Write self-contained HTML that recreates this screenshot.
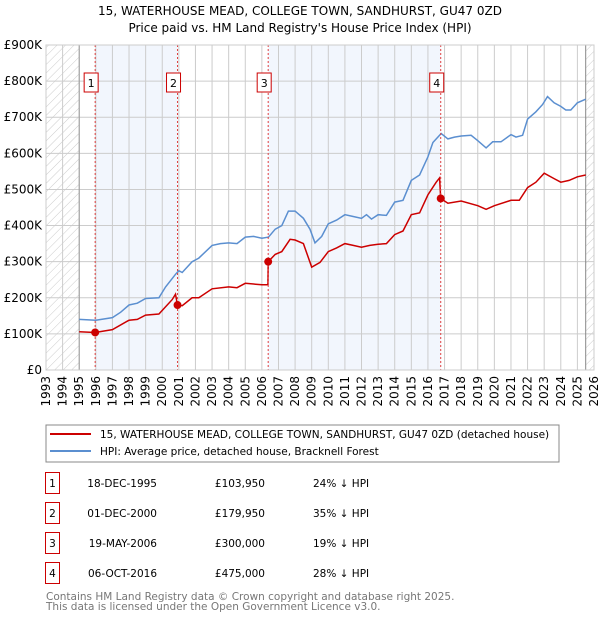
<!DOCTYPE html>
<html><head><meta charset="utf-8"><style>
body{margin:0;background:#fff;font-family:"DejaVu Sans","Liberation Sans",sans-serif;}
svg text{font-family:"DejaVu Sans","Liberation Sans",sans-serif;}
</style></head><body>
<svg id="c" width="600" height="620" xmlns="http://www.w3.org/2000/svg">
<defs><pattern id="hatch" width="6" height="6" patternUnits="userSpaceOnUse" patternTransform="rotate(45)"><line x1="0" y1="0" x2="0" y2="6" stroke="#ccc" stroke-width="1"/></pattern></defs>
<text x="300" y="15" text-anchor="middle" font-size="12">15, WATERHOUSE MEAD, COLLEGE TOWN, SANDHURST, GU47 0ZD</text>
<text x="300" y="32" text-anchor="middle" font-size="12">Price paid vs. HM Land Registry's House Price Index (HPI)</text>
<g id="plot"></g>
<rect x="46" y="425" width="513" height="37" fill="#fff" stroke="#888"/>
<line x1="50" y1="434" x2="91" y2="434" stroke="#cc0000" stroke-width="2"/>
<text x="100" y="438" font-size="10.5">15, WATERHOUSE MEAD, COLLEGE TOWN, SANDHURST, GU47 0ZD (detached house)</text>
<line x1="50" y1="451" x2="91" y2="451" stroke="#5b8fd0" stroke-width="2"/>
<text x="100" y="455" font-size="10.5">HPI: Average price, detached house, Bracknell Forest</text>
<g id="table"></g>
<text x="46" y="600" font-size="10.5" fill="#777">Contains HM Land Registry data © Crown copyright and database right 2025.</text>
<text x="46" y="610" font-size="10.5" fill="#777">This data is licensed under the Open Government Licence v3.0.</text>
</svg>
<script>
const yTicks=[0,100,200,300,400,500,600,700,800,900];
const yTickLabels=["£0","£100K","£200K","£300K","£400K","£500K","£600K","£700K","£800K","£900K"];
const xYears=[1993,1994,1995,1996,1997,1998,1999,2000,2001,2002,2003,2004,2005,2006,2007,2008,2009,2010,2011,2012,2013,2014,2015,2016,2017,2018,2019,2020,2021,2022,2023,2024,2025,2026];
const hpiT=[1995,1996,1997,1997.5,1998,1998.5,1999,1999.8,2000.2,2000.8,2001,2001.2,2001.8,2002.2,2003,2003.5,2004,2004.5,2005,2005.5,2006,2006.4,2006.8,2007.2,2007.6,2008,2008.5,2008.9,2009.2,2009.6,2010,2010.5,2011,2011.5,2012,2012.3,2012.6,2013,2013.5,2014,2014.5,2015,2015.5,2016,2016.3,2016.8,2017.2,2017.6,2018,2018.6,2019,2019.5,2019.9,2020.4,2021,2021.3,2021.7,2022,2022.5,2022.9,2023.2,2023.6,2024,2024.3,2024.6,2025,2025.5];
const hpiV=[140,138,145,160,180,185,198,200,230,265,275,270,300,310,345,350,352,350,368,370,365,368,390,400,440,440,420,390,352,370,405,415,430,425,420,430,418,430,428,465,470,525,540,590,630,655,640,645,648,650,635,615,632,632,652,645,650,695,715,735,757,740,730,720,720,740,750];
const ppT=[1995,1995.96,1996.5,1997,1998,1998.5,1999,1999.8,2000.2,2000.6,2000.8,2000.92,2001.2,2001.8,2002.2,2003,2004,2004.5,2005,2006,2006.36,2006.38,2006.8,2007.2,2007.7,2008,2008.5,2009,2009.5,2010,2010.5,2011,2011.5,2012,2012.5,2013,2013.5,2014,2014.5,2015,2015.5,2016,2016.5,2016.7,2016.77,2017.2,2018,2019,2019.5,2020,2021,2021.5,2022,2022.5,2023,2023.6,2024,2024.5,2025,2025.5];
const ppV=[106,103.95,108,112,138,140,152,155,175,195,210,180,178,200,200,225,230,228,240,236,236,300,320,328,362,360,350,285,298,328,338,350,345,340,345,348,350,375,385,430,435,485,520,532,475,462,468,455,445,455,470,470,505,520,545,530,520,525,535,540];
const saleT=[1995.96,2000.92,2006.38,2016.77];
const saleV=[103.95,179.95,300,475];
const saleLabels=["1","2","3","4"];
const saleDates=["18-DEC-1995","01-DEC-2000","19-MAY-2006","06-OCT-2016"];
const salePrices=["£103,950","£179,950","£300,000","£475,000"];
const saleDiffs=["24% ↓ HPI","35% ↓ HPI","19% ↓ HPI","28% ↓ HPI"];
const X0=46,X1=594,Y0=370,Y1=45;
const xs=t=>X0+(t-1993)/(2026-1993)*(X1-X0);
const ys=v=>Y0-v/900*(Y0-Y1);
const NS="http://www.w3.org/2000/svg";
const plot=document.getElementById('plot');
function mk(tag,attrs,parent){const e=document.createElementNS(NS,tag);for(const k in attrs)e.setAttribute(k,attrs[k]);(parent||plot).appendChild(e);return e;}
let e;
e=mk('rect',{x:X0,y:Y1,width:X1-X0,height:Y0-Y1,fill:'#fff'});


for(const [a,b] of [[saleT[0],saleT[1]],[saleT[2],saleT[3]]]){
 e=mk('rect',{x:xs(a),y:Y1,width:xs(b)-xs(a),height:Y0-Y1,fill:'#f2f6fd'});
 
 
}
e=mk('rect',{x:X0,y:Y1,width:xs(1995)-X0,height:Y0-Y1,fill:'url(#hatch)'});


e=mk('rect',{x:xs(2025.5),y:Y1,width:X1-xs(2025.5),height:Y0-Y1,fill:'url(#hatch)'});


xYears.forEach(y=>{e=mk('line',{x1:xs(y),x2:xs(y),y1:Y1,y2:Y0,stroke:'#ccc','stroke-width':1});
 
 
 e=mk('text',{x:0,y:0,'font-size':12,'text-anchor':'end',transform:`translate(${xs(y)+4},${Y0+6}) rotate(-90)`});
 e.textContent=y;
 
 
});
yTicks.forEach((v,i)=>{e=mk('line',{x1:X0,x2:X1,y1:ys(v),y2:ys(v),stroke:'#ccc','stroke-width':1});
 
 
 e=mk('text',{x:X0-4,y:ys(v)+4,'font-size':12,'text-anchor':'end'});
 e.textContent=yTickLabels[i];
 
 
});
e=mk('line',{x1:xs(1995),x2:xs(1995),y1:Y1,y2:Y0,stroke:'#999'});


e=mk('line',{x1:xs(2025.5),x2:xs(2025.5),y1:Y1,y2:Y0,stroke:'#888'});


e=mk('path',{d:hpiT.map((t,i)=>(i?'L':'M')+xs(t).toFixed(1)+','+ys(hpiV[i]).toFixed(1)).join(''),fill:'none',stroke:'#5b8fd0','stroke-width':1.5});


e=mk('path',{d:ppT.map((t,i)=>(i?'L':'M')+xs(t).toFixed(1)+','+ys(ppV[i]).toFixed(1)).join(''),fill:'none',stroke:'#cc0000','stroke-width':1.5});


saleT.forEach((t,i)=>{
 e=mk('line',{x1:xs(t),x2:xs(t),y1:Y1,y2:Y0,stroke:'#e04040','stroke-dasharray':'2,2','stroke-width':1});
 
 
 e=mk('circle',{cx:xs(t),cy:ys(saleV[i]),r:4,fill:'#cc0000'});
 
 
 e=mk('rect',{x:xs(t)-11,y:73,width:14,height:19,fill:'#fff',stroke:'#cc0000'});
 
 
 e=mk('text',{x:xs(t)-4,y:87,'font-size':11,'text-anchor':'middle'});
 e.textContent=saleLabels[i];
 
 
});
e=mk('rect',{x:X0,y:Y1,width:X1-X0,height:Y0-Y1,fill:'none',stroke:'#ccc'});


const tb=document.getElementById('table');
saleLabels.forEach((l,i)=>{const cy=483+i*30;
 e=mk('rect',{x:45.5,y:cy-10.5,width:14,height:21,fill:'#fff',stroke:'#cc0000'},tb);
 
 
 e=mk('text',{x:52.5,y:cy+4,'font-size':10.5,'text-anchor':'middle'},tb);e.textContent=l;
 
 
 e=mk('text',{x:157,y:cy+4,'font-size':10.5,'text-anchor':'end'},tb);e.textContent=saleDates[i];
 
 
 e=mk('text',{x:265,y:cy+4,'font-size':10.5,'text-anchor':'end'},tb);e.textContent=salePrices[i];
 
 
 e=mk('text',{x:313,y:cy+4,'font-size':10.5},tb);e.textContent=saleDiffs[i];
 
 
});
</script>
</body></html>
